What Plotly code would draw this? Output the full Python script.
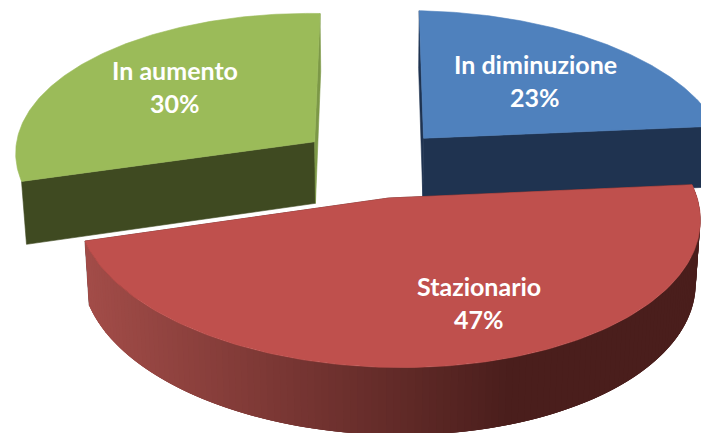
import math
import plotly.graph_objects as go

categories = ["In diminuzione", "Stazionario", "In aumento"]
values = [23, 47, 30]
top_colors = ["#4F81BD", "#BF504D", "#9BBB59"]
start_face_colors = ["#1F3350", "#4A1E1C", "#3F4A21"]
end_face_colors = ["#1F3350", "#4A1E1C", "#7C9847"]
label_anchor_x = [535, 479, 175]
label_anchor_y = [64, 286, 70]
line_gap = 33

# Projection of the tilted pie onto the page
X0, YC, BX, AY, P, DEPTH, Q, EXPLODE = 375, 163, 305, 145, 0.1, 63, 0.014, 0.24
SHEAR = 0.018
slice_shift = [1, -2.5, -2]
slice_width = [1.0, 0.992, 0.987]
WIDTH, HEIGHT = 701, 433


def project(wx, wy, low=False):
    w = 1 - P * wy + (Q if low else 0)
    sx = X0 + BX * wx / w
    return sx, YC + (AY * wy + (DEPTH if low else 0)) / w + SHEAR * (sx - X0)


def polygon(fig, pts, color, width=0.6):
    fig.add_trace(go.Scatter(
        x=[p[0] for p in pts] + [pts[0][0]],
        y=[p[1] for p in pts] + [pts[0][1]],
        mode="lines", fill="toself", fillcolor=color,
        line=dict(color=color, width=width),
        hoverinfo="skip", showlegend=False))


def lerp_hex(a, b, t):
    ca = [int(a[i:i + 2], 16) for i in (1, 3, 5)]
    cb = [int(b[i:i + 2], 16) for i in (1, 3, 5)]
    return "#%02X%02X%02X" % tuple(round(u + (v - u) * t) for u, v in zip(ca, cb))


fig = go.Figure()
total = sum(values)
spans = []
start = 0.0
for v in values:
    spans.append((start, start + 360.0 * v / total))
    start += 360.0 * v / total

# back slices first, the front slice last
for i in [0, 2, 1]:
    a0, a1 = spans[i]
    mid = math.radians((a0 + a1) / 2)
    cx = EXPLODE * math.sin(mid) + slice_shift[i] / BX
    cy = -EXPLODE * math.cos(mid)
    n = 140
    angs = [math.radians(a0 + (a1 - a0) * k / n) for k in range(n + 1)]
    rim = [(cx + slice_width[i] * math.sin(a), cy - math.cos(a)) for a in angs]
    top = [project(*r) for r in rim]
    low = [project(*r, low=True) for r in rim]
    apex_t, apex_l = project(cx, cy), project(cx, cy, low=True)

    # cut faces
    polygon(fig, [apex_t, top[0], low[0], apex_l], start_face_colors[i])
    polygon(fig, [apex_t, top[-1], low[-1], apex_l], end_face_colors[i])

    # outer wall of the front slice, shaded from left to right
    if i == 1:
        for k in range(n):
            e = min(n, k + 3)
            xm = (top[k][0] + top[k + 1][0]) / 2
            t = min(1.0, max(0.0, (xm - 88) / (510 - 88)))
            c = lerp_hex("#A24C48", "#4A1E1C", t)
            polygon(fig, top[k:e + 1] + low[k:e + 1][::-1], c, width=0)

    # top face
    polygon(fig, [apex_t] + top, top_colors[i])

annotations = []
for name, v, ax, ay in zip(categories, values, label_anchor_x, label_anchor_y):
    for j, txt in enumerate([name, f"{round(100 * v / total)}%"]):
        annotations.append(dict(
            x=ax, y=ay + j * line_gap, xref="x", yref="y", text=txt, showarrow=False,
            xanchor="center", yanchor="middle",
            font=dict(family="Lato", size=25, color="#FFFFFF", weight="bold")))

fig.update_layout(
    width=WIDTH, height=HEIGHT, autosize=False,
    margin=dict(l=0, r=0, t=0, b=0),
    paper_bgcolor="#FFFFFF", plot_bgcolor="#FFFFFF",
    xaxis=dict(range=[0, WIDTH], visible=False, fixedrange=True),
    yaxis=dict(range=[HEIGHT, 0], visible=False, fixedrange=True),
    annotations=annotations, showlegend=False)

fig.write_html("out.html", config={"displayModeBar": False},
               post_script="document.body.style.margin='0';document.body.style.overflow='hidden';")
